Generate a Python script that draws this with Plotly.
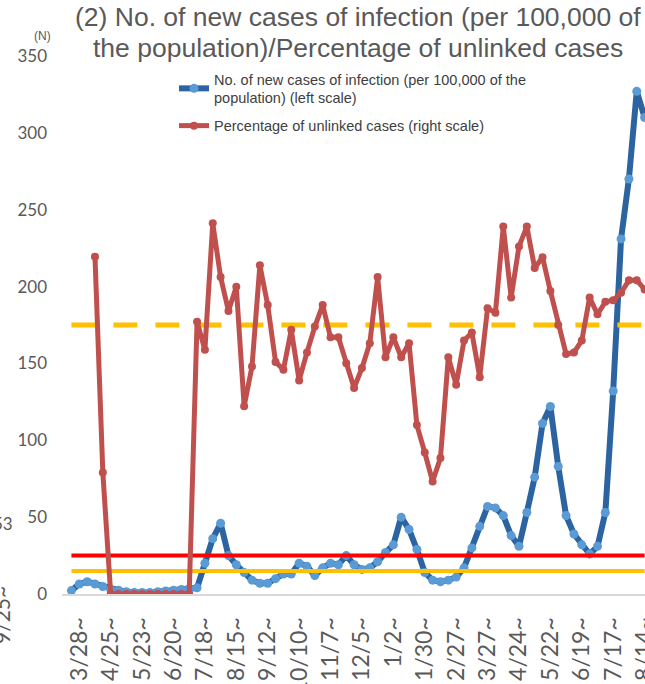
import plotly.graph_objects as go
import pandas as pd

# ---------------- data ----------------
first_week = "2020-03-21"
n_weeks = 74
week_dates = pd.date_range(first_week, periods=n_weeks, freq="7D")

# No. of new cases of infection (per 100,000 of the population), left scale
new_cases = [
    2.2, 6.5, 8, 6.5, 4.8, 3, 2.5, 1.5, 1, 1, 1, 1.5, 2, 2.5, 3, 3.5, 4,
    20, 36, 46, 25, 19, 14, 9, 7, 7, 10, 13, 13, 20, 18, 12, 17, 20, 19, 25,
    19, 16, 17, 21, 27, 32, 50, 42, 29, 14, 9, 8, 9, 11, 17, 30, 44, 57, 56,
    51, 38, 31, 53, 76, 111, 122, 83, 51, 39, 32, 26, 31, 53, 132, 231, 270,
    327, 310,
]

# Percentage of unlinked cases, right scale (%)
unlinked_pct = [
    None, None, None, 62.7, 22.6,
    0, 0, 0, 0, 0, 0, 0, 0, 0, 0, 0,
    50.6, 45.4, 68.9, 58.9, 52.6, 57.1, 34.9, 42.3, 61.1, 53.7, 43.1, 41.7,
    49.1, 39.7, 44.9, 49.7, 53.7, 47.7, 47.7, 42.9, 38.3, 42.0, 46.6, 58.9,
    44.0, 47.7, 44.0, 46.6, 31.4, 26.3, 20.9, 25.3, 44.0, 38.9, 47.1, 48.6,
    40.3, 53.1, 52.3, 68.3, 55.1, 64.6, 68.3, 60.6, 62.6, 56.3, 50.0, 44.6,
    44.9, 47.1, 55.1, 52.0, 54.3, 54.6, 56.0, 58.3, 58.3, 56.6,
]

stage4_line = 25      # per 100,000 (left scale)
stage3_line = 15      # per 100,000 (left scale)
unlinked_line = 50    # % (right scale)

tick_dates = pd.date_range("2020-03-28", periods=19, freq="28D")
tick_labels = ["3/28~", "4/25~", "5/23~", "6/20~", "7/18~", "8/15~", "9/12~",
               "10/10~", "11/7~", "12/5~", "1/2~", "1/30~", "2/27~", "3/27~",
               "4/24~", "5/22~", "6/19~", "7/17~", "8/14~"]

left_ticks = [0, 50, 100, 150, 200, 250, 300, 350]

title_line1 = "(2) No. of new cases of infection (per 100,000 of"
title_line2 = "the population)/Percentage of unlinked cases"
blue_name = "No. of new cases of infection (per 100,000 of the<br>population) (left scale)"
red_name = "Percentage of unlinked cases (right scale)"

# ---------------- figure ----------------
W, H = 645, 684
L, R, T, B = 62, 0, 56, 90
PW, PH = W - L - R, H - T - B


def px(x):
    return (x - L) / PW


def py(y):
    return (H - B - y) / PH


anchor = pd.Timestamp("2020-03-28")
x_range = [anchor - pd.Timedelta(days=2.2 * 7), anchor + pd.Timedelta(days=72.05 * 7)]
span = [week_dates[0], week_dates[-1]]

fig = go.Figure()

fig.add_trace(go.Scatter(
    x=week_dates, y=new_cases, name=blue_name, mode="lines+markers",
    line=dict(color="#2B64A0", width=6),
    marker=dict(color="#5B9BD5", size=9),
    yaxis="y", legendgroup="a", legendrank=1,
))
fig.add_trace(go.Scatter(
    x=span, y=[stage4_line] * 2, mode="lines", showlegend=False,
    line=dict(color="#FF0000", width=4), yaxis="y", hoverinfo="skip",
))
fig.add_trace(go.Scatter(
    x=span, y=[stage3_line] * 2, mode="lines", showlegend=False,
    line=dict(color="#FFC000", width=4), yaxis="y", hoverinfo="skip",
))
fig.add_trace(go.Scatter(
    x=span, y=[unlinked_line] * 2, mode="lines", showlegend=False,
    line=dict(color="#FFC000", width=5, dash="24px,18px"), yaxis="y2", hoverinfo="skip",
))
fig.add_trace(go.Scatter(
    x=week_dates, y=unlinked_pct, name=red_name, mode="lines+markers",
    line=dict(color="#C0504D", width=5),
    marker=dict(color="#C0504D", size=8),
    yaxis="y2", legendgroup="b", legendrank=2,
))

tick_font = dict(family="Lato", size=17, color="#595959")

fig.update_layout(
    width=W, height=H, autosize=False,
    margin=dict(l=L, r=R, t=T, b=B, autoexpand=False),
    paper_bgcolor="white", plot_bgcolor="white",
    xaxis=dict(range=x_range, type="date", tickvals=tick_dates, ticktext=tick_labels,
               tickangle=-90, tickfont=dict(family="Lato", size=23, color="#595959"),
               showgrid=False, zeroline=False, showline=True, linecolor="#D9D9D9",
               linewidth=2, ticks="", ticklabelstandoff=12, automargin=False,
               ticklabeloverflow="allow"),
    yaxis=dict(range=[0, 350], tickvals=left_ticks, tickfont=tick_font,
               showgrid=False, zeroline=False, showline=False, ticks="",
               ticklabelstandoff=14, automargin=False),
    yaxis2=dict(range=[0, 100], overlaying="y", side="right", showticklabels=False,
                showgrid=False, zeroline=False, showline=False, ticks="",
                automargin=False),
    legend=dict(x=px(174), y=py(63), xanchor="left", yanchor="top",
                traceorder="grouped", tracegroupgap=6,
                font=dict(family="Liberation Sans", size=14.5, color="#404040"),
                bgcolor="rgba(0,0,0,0)"),
    showlegend=True,
)

title_font = dict(family="Liberation Sans", size=26.5, color="#595959")
fig.add_annotation(text=title_line1, xref="paper", yref="paper",
                   x=px(358), y=py(17), xanchor="center", yanchor="middle",
                   showarrow=False, font=title_font)
fig.add_annotation(text=title_line2, xref="paper", yref="paper",
                   x=px(358), y=py(48), xanchor="center", yanchor="middle",
                   showarrow=False, font=title_font)
fig.add_annotation(text="(N)", xref="paper", yref="paper",
                   x=px(42), y=py(36), xanchor="center", yanchor="middle",
                   showarrow=False, font=dict(family="Liberation Sans", size=12, color="#595959"))
fig.add_annotation(text="53", xref="paper", yref="paper",
                   x=px(15), y=py(523), xanchor="right", yanchor="middle",
                   showarrow=False, font=dict(family="Lato", size=17, color="#595959"))
fig.add_annotation(text="9/25~", xref="paper", yref="paper", textangle=-90,
                   x=px(1), y=py(615), xanchor="center", yanchor="middle",
                   showarrow=False, font=dict(family="Lato", size=21, color="#595959"))

fig.write_html("out.html", config={"displayModeBar": False},
               post_script="document.body.style.margin='0';")
